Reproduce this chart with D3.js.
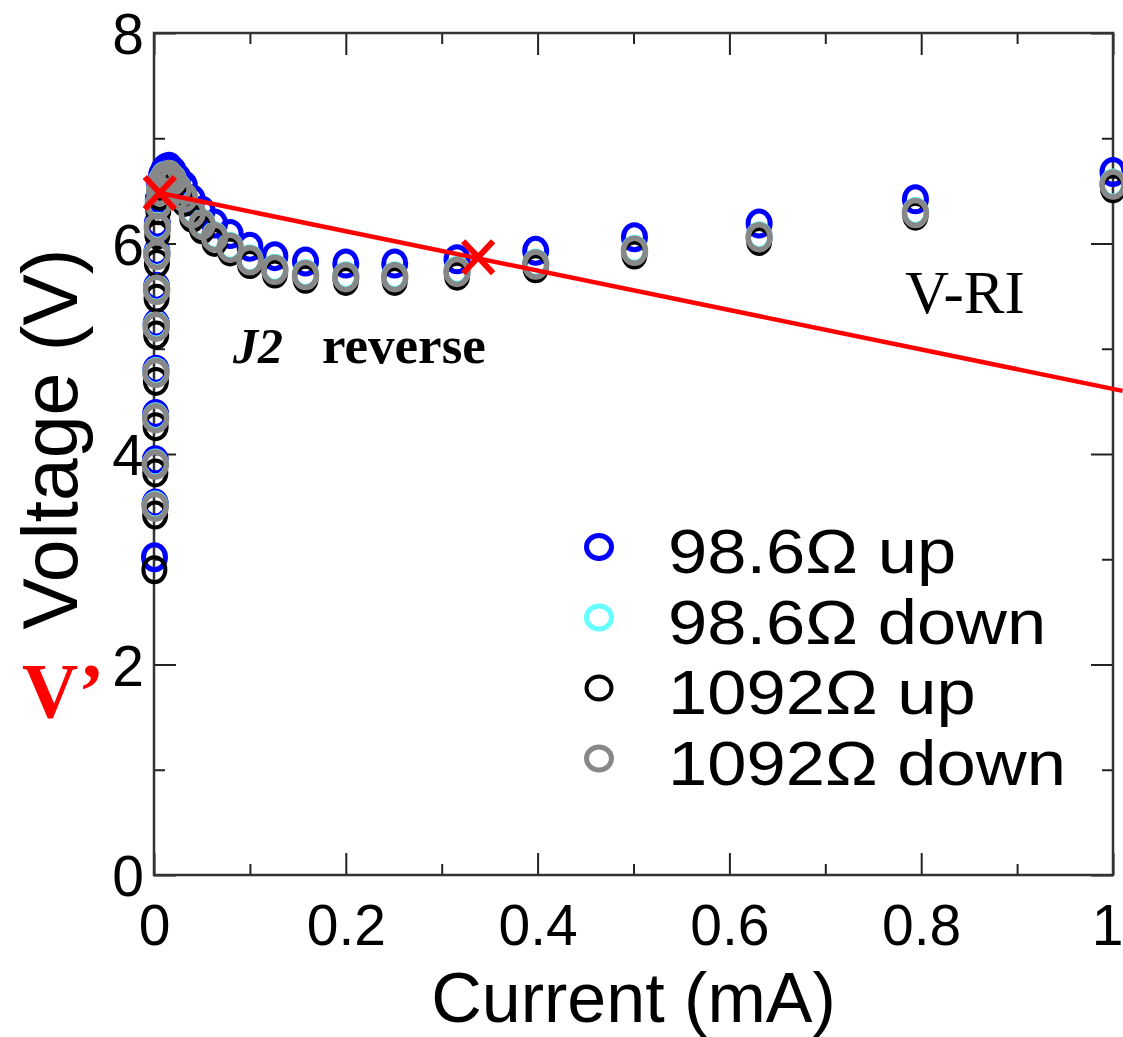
<!DOCTYPE html>
<html>
<head>
<meta charset="utf-8">
<title>Voltage vs current</title>
<style>
  body { margin: 0; background: #fff; }
  .tick line { stroke: #222; stroke-width: 2; }
</style>
</head>
<body>
<script src="https://d3js.org/d3.v7.min.js"></script>
<script>

// ---- data ----
var xTicks = [0, 0.2, 0.4, 0.6, 0.8, 1];
var xMinor = [0.1, 0.3, 0.5, 0.7, 0.9];
var yTicks = [0, 2, 4, 6, 8];
var yMinor = [1, 3, 5, 7];

var seriesNames = ["98.6\u03A9 up", "98.6\u03A9 down", "1092\u03A9 up", "1092\u03A9 down"];
var seriesColors = ["#0000ff", "#66ffff", "#000000", "#888888"];

// 98.6 ohm, sweep up
var blueI = [0.0005, 0.0012, 0.0014, 0.0017, 0.002, 0.0023, 0.0027, 0.003, 0.0035, 0.0045, 0.006, 0.008, 0.0105,
             0.0126, 0.0158, 0.02, 0.0251, 0.0316, 0.0398, 0.0501, 0.0631, 0.0794, 0.1, 0.126, 0.158, 0.2,
             0.251, 0.316, 0.398, 0.501, 0.631, 0.794, 1.0];
var blueV = [3.02, 3.53, 3.94, 4.38, 4.80, 5.24, 5.59, 5.92, 6.19, 6.42, 6.56, 6.65, 6.70,
             6.72, 6.73, 6.69, 6.62, 6.55, 6.42, 6.31, 6.19, 6.09, 5.97, 5.88, 5.83, 5.81,
             5.81, 5.85, 5.93, 6.06, 6.19, 6.42, 6.68];

// 98.6 ohm, sweep down
var cyanI = [0.0012, 0.0014, 0.0017, 0.002, 0.0023, 0.0027, 0.003, 0.0035, 0.0045, 0.006, 0.008, 0.0105,
             0.0126, 0.0158, 0.02, 0.0251, 0.0316, 0.0398, 0.0501, 0.0631, 0.0794, 0.1, 0.126, 0.158, 0.2,
             0.251, 0.316, 0.398, 0.501, 0.631, 0.794, 1.0];
var cyanV = [3.51, 3.91, 4.35, 4.78, 5.22, 5.57, 5.90, 6.16, 6.38, 6.51, 6.60, 6.64,
             6.64, 6.65, 6.61, 6.53, 6.44, 6.30, 6.19, 6.07, 5.97, 5.85, 5.76, 5.71, 5.69,
             5.69, 5.74, 5.81, 5.94, 6.07, 6.30, 6.57];

// 1092 ohm, sweep up
var blackI = [0.0004, 0.0012, 0.0014, 0.0017, 0.002, 0.0023, 0.0027, 0.003, 0.0035, 0.0045, 0.006, 0.008, 0.0105,
              0.0126, 0.0158, 0.02, 0.0251, 0.0316, 0.0398, 0.0501, 0.0631, 0.0794, 0.1, 0.126, 0.158, 0.2,
              0.251, 0.316, 0.398, 0.501, 0.631, 0.794, 1.0];
var blackV = [2.90, 3.42, 3.82, 4.26, 4.69, 5.13, 5.48, 5.81, 6.08, 6.31, 6.45, 6.54, 6.58,
              6.59, 6.60, 6.56, 6.48, 6.39, 6.24, 6.13, 6.01, 5.92, 5.80, 5.71, 5.66, 5.64,
              5.64, 5.69, 5.76, 5.89, 6.02, 6.26, 6.52];

// 1092 ohm, sweep down
var grayI = [0.0012, 0.0014, 0.0017, 0.002, 0.0023, 0.0027, 0.003, 0.0035, 0.0045, 0.006, 0.008, 0.0105,
             0.0126, 0.0158, 0.02, 0.0251, 0.0316, 0.0398, 0.0501, 0.0631, 0.0794, 0.1, 0.126, 0.158, 0.2,
             0.251, 0.316, 0.398, 0.501, 0.631, 0.794, 1.0];
var grayV = [3.50, 3.90, 4.34, 4.77, 5.21, 5.56, 5.89, 6.15, 6.37, 6.50, 6.59, 6.63,
             6.63, 6.65, 6.60, 6.52, 6.44, 6.29, 6.18, 6.06, 5.96, 5.84, 5.75, 5.70, 5.68,
             5.68, 5.73, 5.80, 5.93, 6.06, 6.29, 6.56];

// load line V - RI and the two marked points
var fitI = [0.006, 1.01];
var fitV = [6.48, 4.60];
var crossI = [0.006, 0.338];
var crossV = [6.48, 5.87];

// ---- layout ----
var W = 1123, H = 1037;
var plot = {left: 154, right: 1113, top: 33, bottom: 875};

var x = d3.scaleLinear().domain([0, 1]).range([plot.left, plot.right]);
var y = d3.scaleLinear().domain([0, 8]).range([plot.bottom, plot.top]);

var svg = d3.select("body").append("svg")
    .attr("width", W)
    .attr("height", H);

var sans = "'Liberation Sans', Arial, sans-serif";
var serif = "'Liberation Serif', 'Times New Roman', serif";

// minor ticks on all four sides
svg.append("g").attr("transform", "translate(0," + plot.bottom + ")")
    .call(d3.axisBottom(x).tickValues(xMinor).tickSize(-11).tickFormat(""));
svg.append("g").attr("transform", "translate(0," + plot.top + ")")
    .call(d3.axisTop(x).tickValues(xMinor).tickSize(-11).tickFormat(""));
svg.append("g").attr("transform", "translate(" + plot.left + ",0)")
    .call(d3.axisLeft(y).tickValues(yMinor).tickSize(-11).tickFormat(""));
svg.append("g").attr("transform", "translate(" + plot.right + ",0)")
    .call(d3.axisRight(y).tickValues(yMinor).tickSize(-11).tickFormat(""));

// major ticks
var xAxis = svg.append("g").attr("transform", "translate(0," + plot.bottom + ")")
    .call(d3.axisBottom(x).tickValues(xTicks).tickSize(-22).tickPadding(30)
      .tickFormat(function(d) { return d3.format("")(d); }));
svg.append("g").attr("transform", "translate(0," + plot.top + ")")
    .call(d3.axisTop(x).tickValues(xTicks).tickSize(-22).tickFormat(""));
var yAxis = svg.append("g").attr("transform", "translate(" + plot.left + ",0)")
    .call(d3.axisLeft(y).tickValues(yTicks).tickSize(-22).tickPadding(10));
svg.append("g").attr("transform", "translate(" + plot.right + ",0)")
    .call(d3.axisRight(y).tickValues(yTicks).tickSize(-22).tickFormat(""));

svg.selectAll(".domain").remove();

xAxis.selectAll("text").attr("font-size", 57).attr("font-family", sans).attr("fill", "#000")
    .attr("dx", function(d) { return d === 1 ? -6 : 0; });
yAxis.selectAll("text").attr("font-size", 57).attr("font-family", sans).attr("fill", "#000")
    .attr("dy", "0.36em");

// frame
svg.append("rect")
    .attr("x", plot.left).attr("y", plot.top)
    .attr("width", plot.right - plot.left).attr("height", plot.bottom - plot.top)
    .attr("fill", "none").attr("stroke", "#333").attr("stroke-width", 2.5);

// axis titles
svg.append("text")
    .attr("x", (plot.left + plot.right) / 2).attr("y", 1022)
    .attr("text-anchor", "middle")
    .attr("font-family", sans).attr("font-size", 70)
    .text("Current (mA)");

svg.append("text")
    .attr("transform", "translate(77," + 439 + ") rotate(-90)")
    .attr("text-anchor", "middle")
    .attr("font-family", sans).attr("font-size", 77)
    .text("Voltage (V)");

// data markers
var allSeries = [
  { I: blueI, V: blueV, w: 5 },
  { I: cyanI, V: cyanV, w: 5 },
  { I: blackI, V: blackV, w: 4 },
  { I: grayI, V: grayV, w: 5.5 }
];

allSeries.forEach(function(s, k) {
  var pts = s.I.map(function(d, i) { return [d, s.V[i]]; });
  svg.append("g").selectAll("ellipse")
      .data(pts)
    .enter().append("ellipse")
      .attr("cx", function(d) { return x(d[0]); })
      .attr("cy", function(d) { return y(d[1]); })
      .attr("rx", 11)
      .attr("ry", 12.5)
      .attr("fill", "none")
      .attr("stroke", seriesColors[k])
      .attr("stroke-width", s.w);
});

// red load line
var fitPts = fitI.map(function(d, i) { return [d, fitV[i]]; });
svg.append("path")
    .datum(fitPts)
    .attr("d", d3.line().x(function(d) { return x(d[0]); }).y(function(d) { return y(d[1]); }))
    .attr("fill", "none")
    .attr("stroke", "#ff0000")
    .attr("stroke-width", 4.5);

// red crosses
var cross = crossI.map(function(d, i) { return [d, crossV[i]]; });
var cg = svg.append("g").selectAll("g").data(cross).enter().append("g")
    .attr("transform", function(d) { return "translate(" + x(d[0]) + "," + y(d[1]) + ")"; });
cg.append("line").attr("x1", -15).attr("y1", -16).attr("x2", 15).attr("y2", 16);
cg.append("line").attr("x1", 15).attr("y1", -16).attr("x2", -15).attr("y2", 16);
cg.selectAll("line").attr("stroke", "#ff0000").attr("stroke-width", 6);

// legend
var legend = svg.append("g").selectAll("g")
    .data(seriesNames)
  .enter().append("g")
    .attr("transform", function(d, i) { return "translate(599," + (547 + i * 70.5) + ")"; });

legend.append("ellipse")
    .attr("rx", 12.5).attr("ry", 11.5)
    .attr("fill", "none")
    .attr("stroke", function(d, i) { return seriesColors[i]; })
    .attr("stroke-width", function(d, i) { return i === 2 ? 4 : 5; });

legend.append("text")
    .attr("transform", "translate(69,26) scale(1.12,1)")
    .attr("font-family", sans).attr("font-size", 63)
    .text(function(d) { return d; });

// annotations
var ann = svg.append("text")
    .attr("x", 233).attr("y", 363)
    .attr("font-family", serif).attr("font-size", 50).attr("font-weight", "bold");
ann.append("tspan").attr("font-style", "italic").text("J2");
ann.append("tspan").attr("x", 322).attr("font-size", 53).text("reverse");

svg.append("text")
    .attr("x", 905).attr("y", 313)
    .attr("font-family", serif).attr("font-size", 61)
    .text("V-RI");

svg.append("text")
    .attr("x", 22).attr("y", 717)
    .attr("font-family", serif).attr("font-size", 78).attr("font-weight", "bold")
    .attr("fill", "#ff0000")
    .text("V\u2019");

</script>
</body>
</html>
